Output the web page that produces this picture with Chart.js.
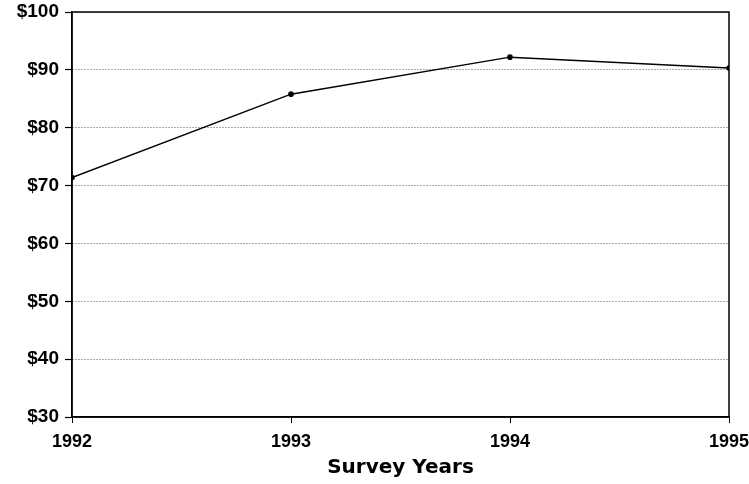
<!DOCTYPE html>
<html>
<head>
<meta charset="utf-8">
<script src="https://cdn.jsdelivr.net/npm/chart.js@4.4.0/dist/chart.umd.min.js"></script>
<style>
    body { margin: 0; background: #fff; }
    #grafico { display: block; }
</style>
</head>
<body>
<canvas id="grafico" width="749" height="484"></canvas>
<script>
// dados
const anos = [1992, 1993, 1994, 1995];
const valores = [71.4, 85.8, 92.2, 90.3];
const eixoYMin = 30;
const eixoYMax = 100;
const tituloX = 'Survey Years';

// moldura preta em volta da área do gráfico
const moldura = {
    id: 'moldura',
    afterDatasetsDraw(chart) {
        const { ctx, chartArea } = chart;
        ctx.save();
        ctx.strokeStyle = '#000';
        ctx.lineWidth = 1.5;
        ctx.strokeRect(chartArea.left, chartArea.top, chartArea.right - chartArea.left, chartArea.bottom - chartArea.top);
        ctx.restore();
    }
};

const pontos = anos.map((a, i) => ({ x: a, y: valores[i] }));

new Chart(document.getElementById('grafico'), {
    type: 'line',
    data: {
        datasets: [{
            data: pontos,
            borderColor: '#000',
            backgroundColor: '#000',
            borderWidth: 1.5,
            pointRadius: 2.8,
            pointBorderWidth: 0,
            tension: 0
        }]
    },
    options: {
        responsive: false,
        animation: false,
        layout: { padding: { top: 12, right: 20, left: 0, bottom: 0 } },
        plugins: { legend: { display: false }, tooltip: { enabled: false } },
        scales: {
            x: {
                type: 'linear',
                min: anos[0],
                max: anos[anos.length - 1],
                afterFit(scale) {
                    scale.height = 67;
                    scale.paddingLeft = 0;
                    scale.paddingRight = 0;
                },
                ticks: {
                    stepSize: 1,
                    color: '#000',
                    font: { family: 'Liberation Sans', weight: 'bold', size: 18 },
                    padding: 8,
                    maxRotation: 0,
                    callback: (v) => String(v)
                },
                grid: {
                    drawOnChartArea: false,
                    tickLength: 6,
                    tickColor: '#000',
                    tickWidth: 1
                },
                border: { color: '#000', width: 1.5 },
                title: {
                    display: true,
                    text: tituloX,
                    color: '#000',
                    font: { family: 'DejaVu Sans', weight: 'bold', size: 20 },
                    padding: { top: 2, bottom: 4 }
                }
            },
            y: {
                min: eixoYMin,
                max: eixoYMax,
                afterFit(scale) {
                    scale.width = 72;
                    scale.paddingTop = 0;
                    scale.paddingBottom = 0;
                },
                ticks: {
                    stepSize: 10,
                    color: '#000',
                    font: { family: 'Liberation Sans', weight: 'bold', size: 19 },
                    padding: 6,
                    callback: (v) => '$' + v
                },
                grid: {
                    color: '#555',
                    lineWidth: 1,
                    tickLength: 7,
                    tickColor: '#000',
                    tickWidth: 1.2
                },
                border: { color: '#000', width: 1.5, dash: [1, 2] }
            }
        }
    },
    plugins: [moldura]
});
</script>
</body>
</html>
